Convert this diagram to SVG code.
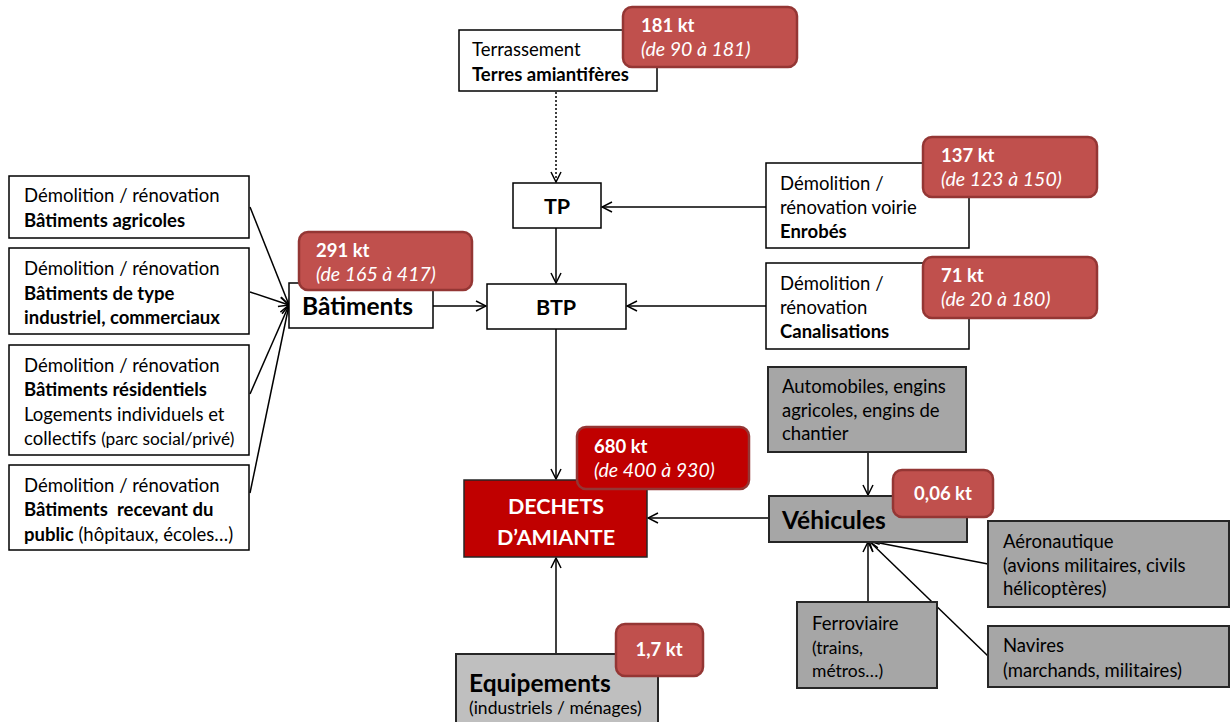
<svg xmlns="http://www.w3.org/2000/svg" width="1230" height="722" viewBox="0 0 1230 722">
<style>
text{font-family:Lato,"Open Sans","Liberation Sans",sans-serif;font-size:18.5px;fill:#000}
.b{font-weight:bold}
.box{fill:#fff;stroke:#000;stroke-width:1.5}
.gray{fill:#a6a6a6;stroke:#262626;stroke-width:2}
.lgray{fill:#bfbfbf;stroke:#262626;stroke-width:2}
.badge{fill:#c0504d;stroke:#943634;stroke-width:2.5}
.badge2{fill:#c00000;stroke:#943634;stroke-width:2.5}
.w{fill:#fff}
.i{font-style:italic;font-size:19.5px}
.big{font-size:24.5px;font-weight:bold}
.mid{font-size:21.5px;font-weight:bold}
.sm{font-size:17.3px}
.sm2{font-size:17.5px}
.conn line{stroke:#000;stroke-width:1.5;fill:none}
</style>
<defs>
<marker id="ah" viewBox="0 0 12 12" refX="11" refY="6" markerWidth="12" markerHeight="12" markerUnits="userSpaceOnUse" orient="auto">
<path d="M1,1 L11,6 L1,11" fill="none" stroke="#000" stroke-width="1.5"/>
</marker>
</defs>
<rect width="1230" height="722" fill="#fff"/>

<g class="conn">
<line x1="556" y1="92" x2="556" y2="182" stroke-dasharray="2,2" marker-end="url(#ah)"/>
<line x1="556" y1="228" x2="556" y2="283" marker-end="url(#ah)"/>
<line x1="766" y1="207" x2="602" y2="207" marker-end="url(#ah)"/>
<line x1="766" y1="306" x2="627" y2="306" marker-end="url(#ah)"/>
<line x1="433" y1="306" x2="486" y2="306" marker-end="url(#ah)"/>
<line x1="250" y1="207" x2="289" y2="305" marker-end="url(#ah)"/>
<line x1="250" y1="292" x2="289" y2="305" marker-end="url(#ah)"/>
<line x1="250" y1="394" x2="289" y2="305" marker-end="url(#ah)"/>
<line x1="250" y1="493" x2="289" y2="305" marker-end="url(#ah)"/>
<line x1="556" y1="329" x2="556" y2="479" marker-end="url(#ah)"/>
<line x1="769" y1="518" x2="648" y2="518" marker-end="url(#ah)"/>
<line x1="868" y1="452" x2="868" y2="495" marker-end="url(#ah)"/>
<line x1="556" y1="654" x2="556" y2="558" marker-end="url(#ah)"/>
<line x1="868" y1="602" x2="868" y2="542" marker-end="url(#ah)"/>
<line x1="988" y1="564" x2="869" y2="541" marker-end="url(#ah)"/>
<line x1="988" y1="656" x2="869" y2="541" marker-end="url(#ah)"/>
</g>

<g id="terrassement">
<rect class="box" x="459" y="30" width="198" height="61"/>
<text x="472" y="56">Terrassement</text>
<text x="472" y="81" class="b">Terres amiantifères</text>
</g>
<g id="badge-181">
<rect class="badge" x="623" y="7" width="174" height="60" rx="9"/>
<text x="641" y="32" class="b w">181 kt</text>
<text x="641" y="56" class="i w">(de 90 à 181)</text>
</g>

<g id="tp">
<rect class="box" x="513" y="183" width="88" height="45"/>
<text x="557" y="214" class="mid" text-anchor="middle">TP</text>
</g>
<g id="btp">
<rect class="box" x="487" y="284" width="139" height="45"/>
<text x="556" y="315" class="mid" text-anchor="middle">BTP</text>
</g>

<g id="batiments">
<rect class="box" x="289" y="283" width="144" height="45"/>
<text x="302" y="315" class="big">Bâtiments</text>
</g>
<g id="badge-291">
<rect class="badge" x="299" y="232" width="173" height="58" rx="9"/>
<text x="316" y="257" class="b w">291 kt</text>
<text x="316" y="281" class="i w">(de 165 à 417)</text>
</g>

<g id="bat-agricoles">
<rect class="box" x="9" y="176" width="240" height="62"/>
<text x="24" y="202">Démolition / rénovation</text>
<text x="24" y="227" class="b">Bâtiments agricoles</text>
</g>
<g id="bat-industriels">
<rect class="box" x="9" y="248" width="240" height="86"/>
<text x="24" y="275">Démolition / rénovation</text>
<text x="24" y="300" class="b">Bâtiments de type</text>
<text x="24" y="324" class="b">industriel, commerciaux</text>
</g>
<g id="bat-residentiels">
<rect class="box" x="9" y="345" width="240" height="110"/>
<text x="24" y="372">Démolition / rénovation</text>
<text x="24" y="396" class="b">Bâtiments résidentiels</text>
<text x="24" y="421">Logements individuels et</text>
<text x="24" y="445">collectifs <tspan class="sm">(parc social/privé)</tspan></text>
</g>
<g id="bat-public">
<rect class="box" x="9" y="465" width="240" height="85"/>
<text x="24" y="492">Démolition / rénovation</text>
<text x="24" y="516" class="b" xml:space="preserve">Bâtiments  recevant du</text>
<text x="24" y="541"><tspan class="b">public</tspan> (hôpitaux, écoles…)</text>
</g>

<g id="voirie">
<rect class="box" x="766" y="163" width="203" height="85"/>
<text x="780" y="190">Démolition /</text>
<text x="780" y="214">rénovation voirie</text>
<text x="780" y="238" class="b">Enrobés</text>
</g>
<g id="badge-137">
<rect class="badge" x="923" y="137" width="174" height="60" rx="9"/>
<text x="941" y="162" class="b w">137 kt</text>
<text x="941" y="186" class="i w">(de 123 à 150)</text>
</g>

<g id="canalisations">
<rect class="box" x="766" y="263" width="203" height="86"/>
<text x="780" y="290">Démolition /</text>
<text x="780" y="314">rénovation</text>
<text x="780" y="338" class="b">Canalisations</text>
</g>
<g id="badge-71">
<rect class="badge" x="923" y="257" width="174" height="61" rx="9"/>
<text x="941" y="282" class="b w">71 kt</text>
<text x="941" y="306" class="i w">(de 20 à 180)</text>
</g>

<g id="dechets">
<rect x="464" y="480" width="183" height="77" fill="#c00000" stroke="#262626" stroke-width="1.5"/>
<text x="556" y="514" class="mid w" text-anchor="middle">DECHETS</text>
<text x="556" y="545" class="mid w" text-anchor="middle">D’AMIANTE</text>
</g>
<g id="badge-680">
<rect class="badge2" x="577" y="427" width="172" height="62" rx="9"/>
<text x="594" y="453" class="b w">680 kt</text>
<text x="594" y="477" class="i w">(de 400 à 930)</text>
</g>

<g id="automobiles">
<rect class="gray" x="768" y="367" width="198" height="85"/>
<text x="782" y="393">Automobiles, engins</text>
<text x="782" y="417">agricoles, engins de</text>
<text x="782" y="440">chantier</text>
</g>

<g id="vehicules">
<rect class="gray" x="769" y="496" width="198" height="46"/>
<text x="782" y="529" class="big">Véhicules</text>
</g>
<g id="badge-006">
<rect class="badge" x="893" y="470" width="100" height="47" rx="9"/>
<text x="943" y="500" class="b w" text-anchor="middle">0,06 kt</text>
</g>

<g id="aeronautique">
<rect class="gray" x="988" y="521" width="241" height="86"/>
<text x="1003" y="548">Aéronautique</text>
<text x="1003" y="572">(avions militaires, civils</text>
<text x="1003" y="595">hélicoptères)</text>
</g>

<g id="ferroviaire">
<rect class="gray" x="797" y="602" width="140" height="86"/>
<text x="812" y="630">Ferroviaire</text>
<text x="812" y="654" class="sm2">(trains,</text>
<text x="812" y="677" class="sm2">métros…)</text>
</g>

<g id="navires">
<rect class="gray" x="988" y="626" width="241" height="61"/>
<text x="1003" y="652">Navires</text>
<text x="1003" y="677">(marchands, militaires)</text>
</g>

<g id="equipements">
<rect class="lgray" x="456" y="654" width="202" height="70"/>
<text x="469" y="692" class="big">Equipements</text>
<text x="469" y="714" class="sm2">(industriels / ménages)</text>
</g>
<g id="badge-17">
<rect class="badge" x="616" y="624" width="87" height="52" rx="9"/>
<text x="659" y="656" class="b w" text-anchor="middle">1,7 kt</text>
</g>
</svg>
